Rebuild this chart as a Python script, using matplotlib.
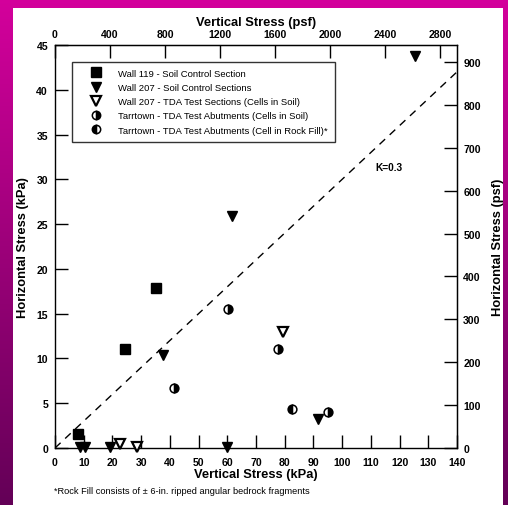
import numpy as np
import matplotlib
matplotlib.use("Agg")
import matplotlib.pyplot as plt
from matplotlib.patches import Rectangle
from matplotlib.lines import Line2D

plt.rcParams['font.family'] = ['Liberation Sans', 'DejaVu Sans']

# ---- data (kPa) ----
w119_x = [8, 24.5, 35]
w119_y = [1.6, 11.0, 17.9]

w207_soil_x = [8.8, 10.5, 19, 60, 37.5, 61.5, 91.5, 125.5]
w207_soil_y = [0.1, 0.1, 0.1, 0.1, 10.4, 25.9, 3.2, 43.8]

w207_tda_x = [22.7, 28.4, 79.5]
w207_tda_y = [0.45, 0.1, 13.0]

tarr_soil_x = [41.6, 60.4, 77.6, 95.0]
tarr_soil_y = [6.7, 15.5, 11.1, 4.05]

tarr_rock_x = [82.7]
tarr_rock_y = [4.3]

k_value = 0.3
kpa_to_psf = 20.885

x_ticks_kpa = list(range(0, 141, 10))
y_ticks_kpa = list(range(0, 46, 5))
x_ticks_psf = list(range(0, 2801, 400))
y_ticks_psf = list(range(0, 901, 100))

legend_labels = [
    "Wall 119 - Soil Control Section",
    "Wall 207 - Soil Control Sections",
    "Wall 207 - TDA Test Sections (Cells in Soil)",
    "Tarrtown - TDA Test Abutments (Cells in Soil)",
    "Tarrtown - TDA Test Abutments (Cell in Rock Fill)*",
]

W, H = 508, 506
fig = plt.figure(figsize=(W / 100, H / 100), dpi=100)

# gradient background
bg = fig.add_axes([0, 0, 1, 1], zorder=-10)
grad = np.linspace(0, 1, 256).reshape(-1, 1)
top = np.array([0.83, 0.0, 0.61])
bot = np.array([0.39, 0.0, 0.34])
img = top[None, None, :] * (1 - grad[:, :, None]) + bot[None, None, :] * grad[:, :, None]
bg.imshow(img, aspect='auto', extent=[0, 1, 0, 1], origin='upper')
bg.add_patch(Rectangle((12.5 / W, 0), (503 - 12.5) / W, (H - 9) / H, facecolor='white', edgecolor='none'))
bg.set_xlim(0, 1); bg.set_ylim(0, 1)
bg.axis('off')

L, R, T, B = 55, 457, 46, 449
ax = fig.add_axes([L / W, (H - B) / H, (R - L) / W, (B - T) / H])
ax.set_xlim(0, 140)
ax.set_ylim(0, 45)

# K line
xx = np.array([0, 140])
ax.plot(xx, k_value * xx, color='black', lw=1.0, ls=(0, (5.5, 4.5)))
ax.text(111.5, 31.4, "K=0.3", fontsize=7.3, fontweight='bold', ha='left', va='center')

ms = 6.8
ax.plot(w119_x, w119_y, ls='none', marker='s', ms=6.8, color='black', clip_on=False, zorder=5)
ax.plot(w207_soil_x, w207_soil_y, ls='none', marker='v', ms=ms, color='black', clip_on=False, zorder=5)
ax.plot(w207_tda_x, w207_tda_y, ls='none', marker='v', ms=ms, mfc='white', mec='black', mew=1.6, clip_on=False, zorder=5)
ax.plot(tarr_soil_x, tarr_soil_y, ls='none', marker='o', ms=6.3, fillstyle='right', mfc='black',
        mfcalt='white', mec='black', mew=1.1, clip_on=False, zorder=5)
ax.plot(tarr_rock_x, tarr_rock_y, ls='none', marker='o', ms=6.3, fillstyle='left', mfc='black',
        mfcalt='white', mec='black', mew=1.1, clip_on=False, zorder=5)

tl = 9.5
fs_tick = 7.6
fs_lab = 9.3
ax.set_xticks(x_ticks_kpa)
ax.set_yticks(y_ticks_kpa)
ax.tick_params(axis='x', direction='in', length=tl, width=1.0, labelsize=fs_tick, pad=6.5)
ax.tick_params(axis='y', direction='in', length=tl, width=1.0, labelsize=fs_tick, pad=5)
for lab in ax.get_xticklabels() + ax.get_yticklabels():
    lab.set_fontweight('bold')
ax.set_xlabel("Vertical Stress (kPa)", fontsize=fs_lab, fontweight='bold', labelpad=1)
ax.set_ylabel("Horizontal Stress (kPa)", fontsize=fs_lab, fontweight='bold', labelpad=5.5)
for s in ax.spines.values():
    s.set_linewidth(1.0)

# top psf axis
axt = ax.secondary_xaxis('top', functions=(lambda v: v * kpa_to_psf, lambda v: v / kpa_to_psf))
axt.set_xticks(x_ticks_psf)
axt.tick_params(direction='in', length=tl, width=1.0, labelsize=fs_tick, pad=4.5)
for lab in axt.get_xticklabels():
    lab.set_fontweight('bold')
axt.set_xlabel("Vertical Stress (psf)", fontsize=fs_lab, fontweight='bold', labelpad=3)

# right psf axis
axr = ax.secondary_yaxis('right', functions=(lambda v: v * kpa_to_psf, lambda v: v / kpa_to_psf))
axr.set_yticks(y_ticks_psf)
axr.tick_params(direction='in', length=tl, width=1.0, labelsize=fs_tick, pad=4.5)
for lab in axr.get_yticklabels():
    lab.set_fontweight('bold')
axr.set_ylabel("Horizontal Stress (psf)", fontsize=fs_lab, fontweight='bold', labelpad=8)

handles = [
    Line2D([], [], ls='none', marker='s', ms=6.5, color='black'),
    Line2D([], [], ls='none', marker='v', ms=6.5, color='black'),
    Line2D([], [], ls='none', marker='v', ms=6.5, mfc='white', mec='black', mew=1.6),
    Line2D([], [], ls='none', marker='o', ms=6, fillstyle='right', mfc='black', mfcalt='white', mec='black', mew=1.1),
    Line2D([], [], ls='none', marker='o', ms=6, fillstyle='left', mfc='black', mfcalt='white', mec='black', mew=1.1),
]
leg = ax.legend(handles, legend_labels, loc='upper left',
                bbox_to_anchor=((71.7 - L) / (R - L), 1 - (62.7 - T) / (B - T)),
                fontsize=6.8, frameon=True, fancybox=False, edgecolor='black',
                handlelength=3.7, handletextpad=0.45, borderpad=0.75, labelspacing=0.55,
                borderaxespad=0)
leg.get_frame().set_linewidth(1.0)

fig.text(54 / W, 1 - 491.5 / H, "*Rock Fill consists of \u00b1 6-in. ripped angular bedrock fragments",
         fontsize=6.7, ha='left', va='center')

fig.savefig("out.png", dpi=100)
